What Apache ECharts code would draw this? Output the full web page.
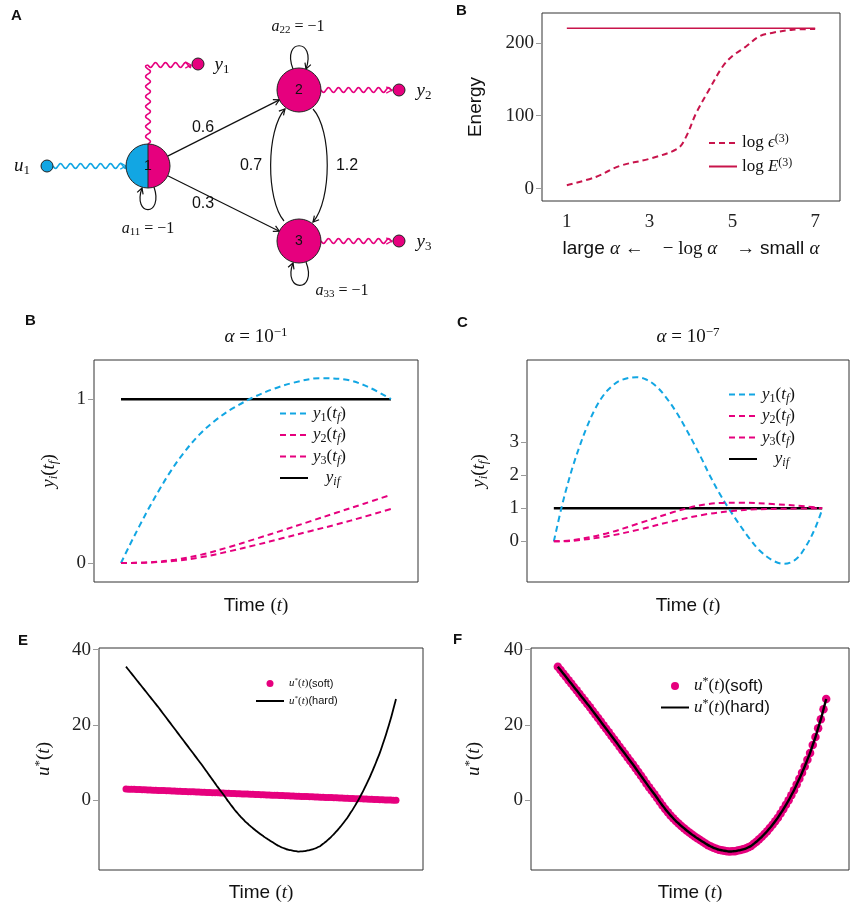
<!DOCTYPE html>
<html><head><meta charset="utf-8">
<script src="https://cdn.jsdelivr.net/npm/echarts@6/dist/echarts.min.js"></script>
<style>html,body{margin:0;padding:0;background:#fff}#c{width:853px;height:909px}</style>
</head><body><div id="c"></div>
<script>
// ================= DATA =================
// Panel B (top): energy vs -log(alpha)
const energyX = [1, 1.7, 2.27, 3, 3.68, 3.88, 4.12, 4.44, 4.77, 5, 5.33, 5.65, 5.98, 6.46, 7];
const energyEps = [4.6, 16, 31, 41, 55, 71, 103, 136, 168, 182, 195, 209, 214, 218, 219];
const energyEX = [1, 7];
const energyE = [220, 220];
const energyXTicks = [1, 3, 5, 7];
const energyYTicks = [0, 100, 200];

// Panel B (alpha = 1e-1)
const tB1 = [0, 0.031, 0.068, 0.105, 0.143, 0.18, 0.229, 0.291, 0.353, 0.415, 0.489, 0.564, 0.638, 0.737, 0.836, 0.911, 1.0];
const y1B = [0, 0.105, 0.225, 0.34, 0.45, 0.55, 0.665, 0.785, 0.875, 0.945, 1.01, 1.062, 1.1, 1.128, 1.118, 1.078, 1.0];
const tB = [0, 0.1, 0.2, 0.3, 0.4, 0.5, 0.6, 0.7, 0.8, 0.9, 1.0];
const y2B = [0, 0.004, 0.02, 0.052, 0.097, 0.148, 0.2, 0.254, 0.308, 0.362, 0.416];
const y3B = [0, 0.003, 0.013, 0.036, 0.071, 0.11, 0.152, 0.194, 0.236, 0.282, 0.33];
const tTarget = [0, 1];
const yTarget = [1, 1];
const ticksB = [0, 1];

// Panel C (alpha = 1e-7)
const tC1 = [0, 0.028, 0.047, 0.072, 0.097, 0.121, 0.152, 0.183, 0.214, 0.251, 0.307, 0.344, 0.381, 0.418, 0.455, 0.493, 0.524, 0.554, 0.579, 0.616, 0.653, 0.691, 0.728, 0.765, 0.814, 0.858, 0.901, 0.938, 0.975, 1.0];
const y1C = [0, 1.0, 1.6, 2.3, 2.9, 3.42, 3.98, 4.4, 4.68, 4.88, 4.97, 4.9, 4.7, 4.36, 3.93, 3.4, 2.93, 2.45, 2.03, 1.47, 0.98, 0.52, 0.1, -0.26, -0.57, -0.68, -0.55, -0.17, 0.42, 0.97];
const tC2 = [0, 0.072, 0.196, 0.319, 0.443, 0.505, 0.567, 0.629, 0.691, 0.814, 0.938, 1.0];
const y2C = [0, 0.04, 0.24, 0.55, 0.88, 1.02, 1.12, 1.165, 1.17, 1.13, 1.06, 1.0];
const tC3 = [0, 0.072, 0.196, 0.319, 0.443, 0.567, 0.666, 0.752, 0.876, 1.0];
const y3C = [0, 0.02, 0.15, 0.36, 0.61, 0.82, 0.92, 0.97, 0.99, 1.0];
const ticksC = [0, 1, 2, 3];

// Panels E, F: control input u*(t), sampled on a uniform time grid 0..1
const uHard = [35.5, 34.6, 33.7, 32.8, 31.9, 31.0, 30.1, 29.2, 28.3, 27.4,
  26.5, 25.6, 24.7, 23.75, 22.8, 21.85, 20.9, 19.95, 19.0, 18.05,
  17.1, 16.15, 15.2, 14.25, 13.3, 12.35, 11.4, 10.45, 9.5, 8.5,
  7.5, 6.5, 5.5, 4.5, 3.5, 2.55, 1.6, 0.6, -0.4, -1.35,
  -2.3, -3.15, -4.0, -4.75, -5.5, -6.15, -6.8, -7.4, -8.0, -8.55,
  -9.1, -9.6, -10.1, -10.55, -11.0, -11.45, -11.9, -12.25, -12.6, -12.85,
  -13.1, -13.25, -13.4, -13.5, -13.6, -13.55, -13.5, -13.35, -13.2, -13.0,
  -12.8, -12.45, -12.1, -11.55, -11.0, -10.35, -9.7, -8.95, -8.2, -7.35,
  -6.5, -5.55, -4.6, -3.5, -2.4, -1.2, 0.0, 1.35, 2.7, 4.2,
  5.7, 7.35, 9.0, 10.8, 12.6, 14.7, 16.8, 19.15, 21.5, 24.2,
  26.9];
const uSoftE = [3.00, 2.97, 2.94, 2.91, 2.88, 2.85, 2.82, 2.79, 2.76, 2.73,
  2.70, 2.67, 2.64, 2.61, 2.58, 2.55, 2.52, 2.49, 2.46, 2.43,
  2.40, 2.37, 2.34, 2.31, 2.28, 2.25, 2.22, 2.19, 2.16, 2.13,
  2.10, 2.07, 2.04, 2.01, 1.98, 1.95, 1.92, 1.89, 1.86, 1.83,
  1.80, 1.77, 1.74, 1.71, 1.68, 1.65, 1.62, 1.59, 1.56, 1.53,
  1.50, 1.47, 1.44, 1.41, 1.38, 1.35, 1.32, 1.29, 1.26, 1.23,
  1.20, 1.17, 1.14, 1.11, 1.08, 1.05, 1.02, 0.99, 0.96, 0.93,
  0.90, 0.87, 0.84, 0.81, 0.78, 0.75, 0.72, 0.69, 0.66, 0.63,
  0.60, 0.57, 0.54, 0.51, 0.48, 0.45, 0.42, 0.39, 0.36, 0.33,
  0.30, 0.27, 0.24, 0.21, 0.18, 0.15, 0.12, 0.09, 0.06, 0.03,
  0.00];
const uSoftF = uHard; // soft solution coincides with the hard one for small alpha
const ticksU = [0, 20, 40];

// Network diagram labels
const nodeLabels = ['1', '2', '3'];
const edgeWeights = ['0.6', '0.3', '0.7', '1.2'];
const selfLoopLabels = ['11', '22', '33'];

// ================= STYLE =================
const BLUE = '#12A6E3', MAG = '#E6007E', CRIM = '#C8144B';
const SERIF = 'Liberation Serif', SANS = 'Liberation Sans';

function mathRich(size) {
  const lh = Math.round(size * 1.15);
  const sub = Math.round(size * 0.68);
  const base = {fontFamily: SERIF, fontSize: size, lineHeight: lh, color: '#111', fill: '#111'};
  return {
    i: Object.assign({}, base, {fontStyle: 'italic'}),
    r: Object.assign({}, base),
    sans: Object.assign({}, base, {fontFamily: SANS}),
    s: {fontFamily: SERIF, fontSize: sub, lineHeight: sub, verticalAlign: 'bottom', color: '#111', fill: '#111'},
    si: {fontFamily: SERIF, fontStyle: 'italic', fontSize: sub, lineHeight: sub, verticalAlign: 'bottom', color: '#111', fill: '#111'},
    p: {fontFamily: SERIF, fontSize: sub, lineHeight: sub, verticalAlign: 'top', color: '#111', fill: '#111'}
  };
}

const LBL = {
  eps: '{r|log }{i|ϵ}{p|(3)}',
  E3: '{r|log }{i|E}{p|(3)}',
  B_y1: '{i|y}{s|1}{r|(}{i|t}{si|f}{r|)}',
  B_y2: '{i|y}{s|2}{r|(}{i|t}{si|f}{r|)}',
  B_y3: '{i|y}{s|3}{r|(}{i|t}{si|f}{r|)}',
  B_yf: '{r|   }{i|y}{si|if}',
  E_soft: '{i|u}{p|*}{r|(}{i|t}{r|)}{sans|(soft)}',
  E_hard: '{i|u}{p|*}{r|(}{i|t}{r|)}{sans|(hard)}'
};
function lbl(name) { return LBL[name.replace(/^C_/, 'B_').replace(/^F_/, 'E_')]; }

const zip = (a, b) => a.map((v, i) => [v, b[i]]);
const uniform = arr => arr.map((v, i) => [i / (arr.length - 1), v]);

// ================= AXES =================
function xHidden(grid, min, max, name, gap) {
  return {type: 'value', gridIndex: grid, min, max,
    axisLine: {show: false, onZero: false}, axisTick: {show: false}, axisLabel: {show: false}, splitLine: {show: false},
    name, nameLocation: 'middle', nameGap: gap, nameTextStyle: {rich: mathRich(19)}};
}
function yAx(grid, min, max, ticks, name, gap, nameStyle) {
  return {type: 'value', gridIndex: grid, min, max,
    axisLine: {show: false, onZero: false}, splitLine: {show: false},
    axisTick: {show: true, customValues: ticks, length: 6, lineStyle: {color: '#9a9a9a', width: 1}},
    axisLabel: {customValues: ticks, fontFamily: SERIF, fontSize: 19, color: '#222', margin: 8},
    name, nameLocation: 'middle', nameGap: gap, nameTextStyle: nameStyle || {rich: mathRich(19)}};
}

const grids = [
  {left: 542, top: 13, width: 298, height: 188},
  {left: 94, top: 360, width: 324, height: 222},
  {left: 527, top: 360, width: 322, height: 222},
  {left: 99, top: 648, width: 324, height: 222},
  {left: 531, top: 648, width: 318, height: 222}
].map(g => Object.assign(g, {show: true, borderColor: '#333', borderWidth: 1}));

const xAxes = [
  {type: 'value', gridIndex: 0, min: 0.4, max: 7.6, axisLine: {show: false, onZero: false}, splitLine: {show: false},
    axisTick: {show: false},
    axisLabel: {customValues: energyXTicks, fontFamily: SERIF, fontSize: 19, color: '#222', margin: 12},
    name: '{sans|large }{i|α}{r| ←    − log }{i|α}{r|    → }{sans|small }{i|α}',
    nameLocation: 'middle', nameGap: 37, nameTextStyle: {rich: mathRich(19)}},
  xHidden(1, -0.1, 1.1, '{sans|Time }{r|(}{i|t}{r|)}', 13),
  xHidden(2, -0.1, 1.1, '{sans|Time }{r|(}{i|t}{r|)}', 13),
  xHidden(3, -0.1, 1.1, '{sans|Time }{r|(}{i|t}{r|)}', 12),
  xHidden(4, -0.1, 1.085, '{sans|Time }{r|(}{i|t}{r|)}', 12)
];
const yAxes = [
  yAx(0, -17, 241, energyYTicks, 'Energy', 57, {fontFamily: SANS, fontSize: 19, color: '#111'}),
  yAx(1, -0.116, 1.239, ticksB, '{i|y}{si|i}{r|(}{i|t}{si|f}{r|)}', 34),
  yAx(2, -1.23, 5.49, ticksC, '{i|y}{si|i}{r|(}{i|t}{si|f}{r|)}', 37),
  yAx(3, -18.5, 40.45, ticksU, '{i|u}{p|*}{r|(}{i|t}{r|)}', 44),
  yAx(4, -18.5, 40.45, ticksU, '{i|u}{p|*}{r|(}{i|t}{r|)}', 46)
];

// ================= SERIES =================
function ln(name, g, data, color, width, dashed, z) {
  return {type: 'line', name, xAxisIndex: g, yAxisIndex: g, data, symbol: 'none', smooth: 0.35,
    lineStyle: {color, width, type: dashed ? [6, 4] : 'solid'}, itemStyle: {color}, z: z || 2};
}
const series = [
  ln('eps', 0, zip(energyX, energyEps), CRIM, 2, true),
  ln('E3', 0, zip(energyEX, energyE), CRIM, 1.5, false),
  ln('B_yf', 1, zip(tTarget, yTarget), '#000', 2.5, false, 1),
  ln('B_y1', 1, zip(tB1, y1B), BLUE, 2, true),
  ln('B_y2', 1, zip(tB, y2B), MAG, 2, true),
  ln('B_y3', 1, zip(tB, y3B), MAG, 2, true),
  ln('C_yf', 2, zip(tTarget, yTarget), '#000', 2.5, false, 1),
  ln('C_y1', 2, zip(tC1, y1C), BLUE, 2, true),
  ln('C_y2', 2, zip(tC2, y2C), MAG, 2, true),
  ln('C_y3', 2, zip(tC3, y3C), MAG, 2, true),
  {type: 'scatter', name: 'E_soft', xAxisIndex: 3, yAxisIndex: 3, data: uniform(uSoftE), symbolSize: 7,
    itemStyle: {color: MAG, opacity: 1}, z: 2},
  ln('E_hard', 3, uniform(uHard), '#000', 1.8, false, 3),
  {type: 'scatter', name: 'F_soft', xAxisIndex: 4, yAxisIndex: 4, data: uniform(uSoftF), symbolSize: 8.5,
    itemStyle: {color: MAG, opacity: 1}, z: 2},
  ln('F_hard', 4, uniform(uHard), '#000', 2.4, false, 3)
];

function legend(names, left, top, size, gap, iconH) {
  return {orient: 'vertical', left, top, padding: 0, itemGap: gap, itemWidth: 28, itemHeight: iconH || 8,
    selectedMode: false, itemStyle: {opacity: 0},
    data: names.map(n => /soft/.test(n) ? {name: n, icon: 'circle', itemStyle: {opacity: 1, color: MAG}} : {name: n}),
    formatter: n => lbl(n), textStyle: {rich: mathRich(size)}};
}
const legends = [
  legend(['eps', 'E3'], 708, 133, 17, 5),
  legend(['B_y1', 'B_y2', 'B_y3', 'B_yf'], 279, 405, 17, 3),
  legend(['C_y1', 'C_y2', 'C_y3', 'C_yf'], 728, 386, 17, 3),
  legend(['E_soft', 'E_hard'], 255, 677, 11, 5.5, 7),
  legend(['F_soft', 'F_hard'], 660, 676, 17, 3, 8)
];

// ================= NETWORK DIAGRAM (panel A) =================
const P = {n1: [148, 166], n2: [299, 90], n3: [299, 241], u1: [47, 166], o1: [198, 64], o2: [399, 90], o3: [399, 241]};
const R = 22, r = 6;
const G = [];
function wavePts(x1, y1, x2, y2, amp, wl) {
  const dx = x2 - x1, dy = y2 - y1, L = Math.hypot(dx, dy), ux = dx / L, uy = dy / L, nx = -uy, ny = ux;
  const pts = [];
  for (let d = 0; d <= L; d += 0.8) {
    const o = amp * Math.sin(2 * Math.PI * d / wl);
    pts.push([x1 + ux * d + nx * o, y1 + uy * d + ny * o]);
  }
  pts.push([x2, y2]);
  return pts;
}
function head(x, y, ang, color) {
  const L = 6.5, w = 0.5;
  G.push({type: 'polyline', z: 12, shape: {points: [[x - L * Math.cos(ang - w), y - L * Math.sin(ang - w)], [x, y], [x - L * Math.cos(ang + w), y - L * Math.sin(ang + w)]]},
    style: {stroke: color, lineWidth: 1.2, fill: null}});
}
function wave(x1, y1, x2, y2, color, arrow) {
  G.push({type: 'polyline', z: 10, shape: {points: wavePts(x1, y1, x2, y2, 2.4, 10)}, style: {stroke: color, lineWidth: 1.6, fill: null}});
  if (arrow) head(x2, y2, Math.atan2(y2 - y1, x2 - x1), color);
}
function text(x, y, t, size, extra) {
  G.push(Object.assign({type: 'text', x, y, z: 30,
    style: Object.assign({text: t, rich: mathRich(size), fontFamily: SERIF, fontSize: size, fill: '#111',
      align: 'center', verticalAlign: 'middle', textAlign: 'center', textVerticalAlign: 'middle'}, extra || {})}));
}
function circ(c, rad, fill) {
  G.push({type: 'circle', z: 20, shape: {cx: c[0], cy: c[1], r: rad}, style: {fill, stroke: '#222', lineWidth: 1}});
}
function bez(p0, c1, c2, p3) {
  G.push({type: 'bezierCurve', z: 10, shape: {x1: p0[0], y1: p0[1], cpx1: c1[0], cpy1: c1[1], cpx2: c2[0], cpy2: c2[1], x2: p3[0], y2: p3[1]},
    style: {stroke: '#111', lineWidth: 1.2, fill: null}});
  head(p3[0], p3[1], Math.atan2(p3[1] - c2[1], p3[0] - c2[0]), '#111');
}
function edge(a, b, label, lx, ly) {
  const dx = b[0] - a[0], dy = b[1] - a[1], L = Math.hypot(dx, dy), ux = dx / L, uy = dy / L;
  const s = [a[0] + ux * R, a[1] + uy * R], e = [b[0] - ux * R, b[1] - uy * R];
  G.push({type: 'line', z: 10, shape: {x1: s[0], y1: s[1], x2: e[0], y2: e[1]}, style: {stroke: '#111', lineWidth: 1.2}});
  head(e[0], e[1], Math.atan2(dy, dx), '#111');
  text(lx, ly, label, 16, {fontFamily: SANS});
}
// input / output wavy links
wave(P.u1[0] + r, P.u1[1], P.n1[0] - R, P.n1[1], BLUE, true);
wave(P.n1[0], P.n1[1] - R, P.n1[0], P.o1[1] + 1, MAG, false);
wave(P.n1[0], P.o1[1] + 1, P.o1[0] - r - 1, P.o1[1] + 1, MAG, true);
wave(P.n2[0] + R, P.n2[1], P.o2[0] - r - 1, P.o2[1], MAG, true);
wave(P.n3[0] + R, P.n3[1], P.o3[0] - r - 1, P.o3[1], MAG, true);
// straight edges
edge(P.n1, P.n2, edgeWeights[0], 203, 128);
edge(P.n1, P.n3, edgeWeights[1], 203, 204);
// curved edges between 2 and 3
bez([284, 221], [266, 200], [266, 130], [285, 109]);
bez([313, 109], [332, 130], [332, 200], [313, 222]);
text(251, 166, edgeWeights[2], 16, {fontFamily: SANS});
text(347, 166, edgeWeights[3], 16, {fontFamily: SANS});
// self loops
bez([154, 187], [164, 217], [132, 217], [142, 188]);
bez([293, 69], [281, 38], [317, 38], [306, 69]);
bez([306, 262], [318, 293], [282, 293], [293, 263]);
text(148, 229, '{i|a}{s|' + selfLoopLabels[0] + '}{r| = −1}', 16);
text(298, 27, '{i|a}{s|' + selfLoopLabels[1] + '}{r| = −1}', 16);
text(342, 291, '{i|a}{s|' + selfLoopLabels[2] + '}{r| = −1}', 16);
// nodes
G.push({type: 'sector', z: 19, shape: {cx: P.n1[0], cy: P.n1[1], r: R, r0: 0, startAngle: Math.PI / 2, endAngle: Math.PI * 1.5, clockwise: true}, style: {fill: BLUE}});
G.push({type: 'sector', z: 19, shape: {cx: P.n1[0], cy: P.n1[1], r: R, r0: 0, startAngle: -Math.PI / 2, endAngle: Math.PI / 2, clockwise: true}, style: {fill: MAG}});
G.push({type: 'circle', z: 20, shape: {cx: P.n1[0], cy: P.n1[1], r: R}, style: {fill: null, stroke: '#222', lineWidth: 1}});
G.push({type: 'line', z: 20, shape: {x1: P.n1[0], y1: P.n1[1] - R, x2: P.n1[0], y2: P.n1[1] + R}, style: {stroke: '#222', lineWidth: 1}});
circ(P.n2, R, MAG); circ(P.n3, R, MAG);
circ(P.u1, r, BLUE); circ(P.o1, r, MAG); circ(P.o2, r, MAG); circ(P.o3, r, MAG);
text(P.n1[0], P.n1[1], nodeLabels[0], 14, {fontFamily: SANS});
text(P.n2[0], P.n2[1], nodeLabels[1], 14, {fontFamily: SANS});
text(P.n3[0], P.n3[1], nodeLabels[2], 14, {fontFamily: SANS});
text(22, 166, '{i|u}{s|1}', 19);
text(222, 65, '{i|y}{s|1}', 19);
text(424, 91, '{i|y}{s|2}', 19);
text(424, 242, '{i|y}{s|3}', 19);
// panel titles
text(256, 337, '{i|α}{r| = 10}{p|−1}', 19);
text(688, 337, '{i|α}{r| = 10}{p|−7}', 19);
function letter(t, x, y) {
  G.push({type: 'text', x, y, z: 30, style: {text: t, fontFamily: SANS, fontWeight: 'bold', fontSize: 15, fill: '#111', align: 'left', verticalAlign: 'top', textAlign: 'left', textVerticalAlign: 'top'}});
}
letter('A', 11, 8); letter('B', 456, 3); letter('B', 25, 313); letter('C', 457, 315); letter('E', 18, 633); letter('F', 453, 632);

// ================= CHART =================
const chart = echarts.init(document.getElementById('c'), null, {renderer: 'canvas'});
chart.setOption({
  animation: false,
  backgroundColor: '#fff',
  grid: grids,
  xAxis: xAxes,
  yAxis: yAxes,
  legend: legends,
  series,
  graphic: {elements: G}
});
</script></body></html>
